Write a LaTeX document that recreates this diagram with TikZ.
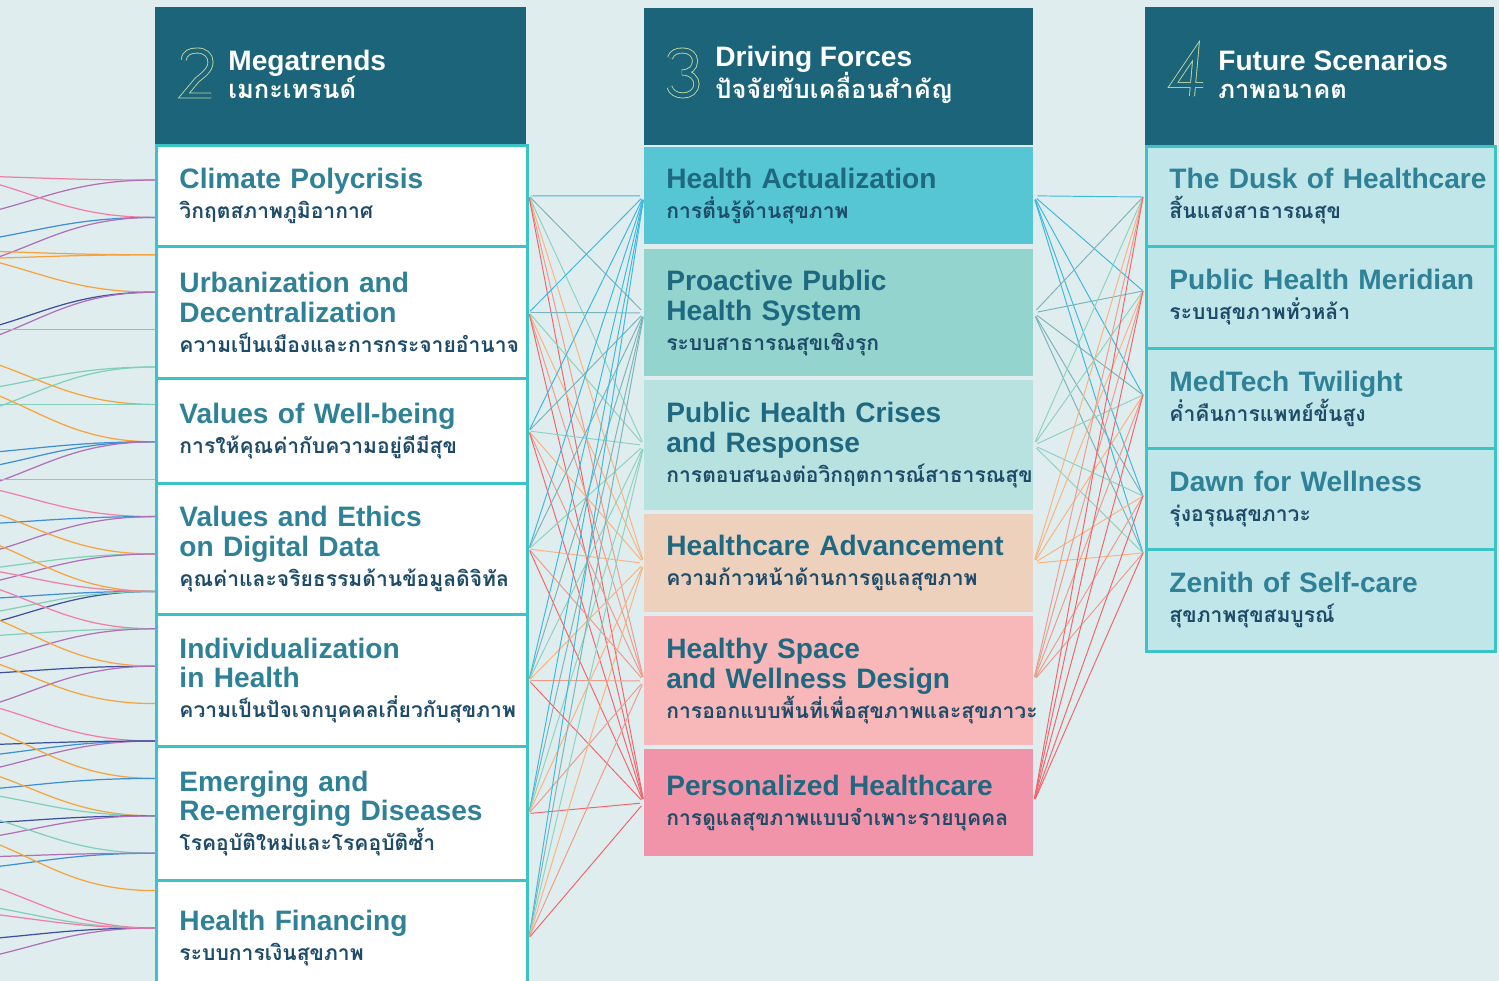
\documentclass[tikz,border=0pt]{standalone}
\usepackage{fontspec}
\setmainfont{Liberation Sans}
\newfontfamily\thaifont[Script=Thai]{Loma}
\usetikzlibrary{positioning}

\definecolor{bgcol}{HTML}{E0EDEE}
\definecolor{headcol}{HTML}{1B6479}
\definecolor{digitcol}{HTML}{C5D9A0}
\definecolor{bordercol}{HTML}{3CC3C6}
\definecolor{mttitle}{HTML}{2E8196}
\definecolor{dftitle}{HTML}{1E6981}
\definecolor{thaitxt}{HTML}{1D4B68}
\definecolor{fsfill}{HTML}{C1E6EA}
\definecolor{dfa}{HTML}{56C6D4}
\definecolor{dfb}{HTML}{94D4CE}
\definecolor{dfc}{HTML}{B8E2E0}
\definecolor{dfd}{HTML}{EED1BD}
\definecolor{dfe}{HTML}{F8B8B9}
\definecolor{dff}{HTML}{F294A9}
% link colours, one per driving force
\definecolor{lc1}{HTML}{3CB7E0}
\definecolor{lc2}{HTML}{7AB4BA}
\definecolor{lc3}{HTML}{8CD2BF}
\definecolor{lc4}{HTML}{FBB27C}
\definecolor{lc5}{HTML}{EE9A8B}
\definecolor{lc6}{HTML}{F2646B}
% feeds from the earlier stage
\definecolor{cpink}{HTML}{F37EA4}
\definecolor{cpurple}{HTML}{B06FB9}
\definecolor{cblue}{HTML}{3E8FD9}
\definecolor{corange}{HTML}{F7A23A}
\definecolor{cnavy}{HTML}{3E4FA0}
\definecolor{cgreen}{HTML}{82CFB9}

\newcommand\thline[1]{\\{\thaifont\fontsize{12}{17}\selectfont\color{thaitxt}#1}}
\newcommand\thhead[1]{\\[-1pt]{\thaifont\fontsize{14.5}{17}\selectfont #1}}

\tikzset{
  headbox/.style={fill=headcol, anchor=north west, inner sep=0pt, minimum height=2.74cm},
  headtext/.style={anchor=west, align=left, inner sep=0pt, text=white,
    font=\fontsize{16}{17}\selectfont\bfseries},
  numoutline/.style={draw=digitcol, line width=0.5pt, double=headcol, double distance=2.4pt},
  boxtext/.style={anchor=north west, align=left,
    execute at begin node={\hyphenpenalty=10000\exhyphenpenalty=10000},
    font=\fontsize{16}{17}\selectfont\bfseries},
  mtbox/.style={boxtext, draw=bordercol, line width=1.7pt, fill=white,
    text width=6.5cm, inner xsep=0.46cm, text=mttitle},
  dfbox/.style={boxtext, text width=6.9cm, inner xsep=0.44cm, text=dftitle},
  fsbox/.style={mtbox, fill=fsfill, text width=6.06cm},
  mdlink/.style={line width=0.55pt, shorten <=1pt, shorten >=2.3pt},
  dflink/.style={line width=0.55pt, shorten <=2.3pt},
  feed/.style={line width=0.7pt}
}

\begin{document}
\begin{tikzpicture}[x=0.02cm, y=-0.02cm]
  \useasboundingbox (0,0) rectangle (1499,981);
  \fill[bgcol] (0,0) rectangle (1499,981);

  % curves coming in from stage 1
  \foreach \k/\dy/\c in {0/-5/cpink, 0/45/cpurple, 1/-50/cpink, 1/30/cblue, 1/60/cpurple,
      2/5/corange, 2/-5/corange, 3/-45/corange, 3/50/cnavy, 3/65/cpurple, 4/0/corange,
      5/30/cgreen, 5/60/cgreen, 6/-60/corange, 6/0/cgreen, 7/-70/corange, 7/15/cblue,
      7/35/cblue, 7/60/cpurple, 8/0/cgreen, 9/-40/cpink, 9/10/cblue, 9/50/cpurple,
      10/20/cgreen, 10/-60/corange, 10/40/cpurple, 11/-70/corange, 11/10/cblue,
      11/45/cnavy, 11/30/cgreen, 11/-30/cpink, 12/-60/cpink, 12/10/cgreen, 12/45/cpurple,
      13/10/cnavy, 13/-70/corange, 13/55/cpurple, 14/-60/corange, 15/-50/cpink,
      15/20/cblue, 15/40/cpurple, 15/5/cnavy, 16/-70/corange, 16/15/cblue,
      17/-60/corange, 17/-30/cgreen, 17/10/cnavy, 17/30/cpurple, 18/-50/cgreen,
      18/20/cblue, 18/5/cpurple, 19/-70/corange, 20/-60/cpink, 20/-30/cgreen,
      20/15/cnavy, 20/40/cpurple, 20/-20/cpink}{
    \coordinate (src) at (-130,{180+37.4*\k+\dy});
    \coordinate (ent) at (155,{180+37.4*\k});
    \draw[feed, \c] (src) .. controls +(150,0) and +(-120,0) .. (ent);
  }

  % 2 Megatrends
  \node[headbox, minimum width=7.42cm] (h1) at (155,7) {};
  \node[headtext] (h1t) at (228,74) {Megatrends\thhead{เมกะเทรนด์}};
  \draw[numoutline] (184,60) .. controls (184,53) and (190,50.5) .. (197,50.5)
    .. controls (205,50.5) and (210.5,55) .. (210.5,62)
    .. controls (210.5,70) and (203,75) .. (197,80) -- (184,95.5) -- (211,95.5);

  \node[mtbox, minimum height=2.02cm] (m1) at (155,144) {Climate Polycrisis\thline{วิกฤตสภาพภูมิอากาศ}};
  \node[mtbox, minimum height=2.64cm] (m2) at (155,245) {Urbanization and\\Decentralization\thline{ความเป็นเมืองและการกระจายอำนาจ}};
  \node[mtbox, minimum height=2.10cm] (m3) at (155,377) {Values of Well-being\thline{การให้คุณค่ากับความอยู่ดีมีสุข}};
  \node[mtbox, minimum height=2.62cm] (m4) at (155,482) {Values and Ethics\\on Digital Data\thline{คุณค่าและจริยธรรมด้านข้อมูลดิจิทัล}};
  \node[mtbox, minimum height=2.64cm] (m5) at (155,613) {Individualization\\in Health\thline{ความเป็นปัจเจกบุคคลเกี่ยวกับสุขภาพ}};
  \node[mtbox, minimum height=2.68cm] (m6) at (155,745) {Emerging and\\Re-emerging Diseases\thline{โรคอุบัติใหม่และโรคอุบัติซ้ำ}};
  \node[mtbox, minimum height=2.30cm] (m7) at (155,879) {Health Financing\thline{ระบบการเงินสุขภาพ}};

  % 3 Driving Forces
  \node[headbox, minimum width=7.78cm] (h2) at (644,8) {};
  \node[headtext] (h2t) at (715,75) {Driving Forces\thhead{ปัจจัยขับเคลื่อนสำคัญ}};
  \draw[numoutline] (670,58) .. controls (672,52) and (677,50.5) .. (683,50.5)
    .. controls (690,50.5) and (695,55) .. (695,61) .. controls (695,68) and (690,72) .. (682,72.5)
    .. controls (691,72.5) and (696.5,78) .. (696.5,84) .. controls (696.5,91) and (690,95.5) .. (683,95.5)
    .. controls (676,95.5) and (671,92) .. (669.5,87);

  \node[dfbox, fill=dfa, minimum height=1.94cm] (d1) at (644,147) {Health Actualization\thline{การตื่นรู้ด้านสุขภาพ}};
  \node[dfbox, fill=dfb, minimum height=2.54cm] (d2) at (644,249) {Proactive Public\\Health System\thline{ระบบสาธารณสุขเชิงรุก}};
  \node[dfbox, fill=dfc, minimum height=2.60cm] (d3) at (644,380) {Public Health Crises\\and Response\thline{การตอบสนองต่อวิกฤตการณ์สาธารณสุข}};
  \node[dfbox, fill=dfd, minimum height=1.96cm] (d4) at (644,514) {Healthcare~Advancement\thline{ความก้าวหน้าด้านการดูแลสุขภาพ}};
  \node[dfbox, fill=dfe, minimum height=2.58cm] (d5) at (644,616) {Healthy Space\\and Wellness Design\thline{การออกแบบพื้นที่เพื่อสุขภาพและสุขภาวะ}};
  \node[dfbox, fill=dff, minimum height=2.14cm] (d6) at (644,749) {Personalized Healthcare\thline{การดูแลสุขภาพแบบจำเพาะรายบุคคล}};

  % 4 Future Scenarios
  \node[headbox, minimum width=6.98cm, minimum height=2.76cm] (h3) at (1145,7) {};
  \node[headtext] (h3t) at (1218,74) {Future Scenarios\thhead{ภาพอนาคต}};
  \draw[numoutline] (1192,96) -- (1196,51) -- (1173,85) -- (1203,85);

  \node[fsbox, minimum height=2.00cm] (f1) at (1145,145) {The~Dusk~of~Healthcare\thline{สิ้นแสงสาธารณสุข}};
  \node[fsbox, minimum height=2.04cm] (f2) at (1145,245) {Public~Health~Meridian\thline{ระบบสุขภาพทั่วหล้า}};
  \node[fsbox, minimum height=2.00cm] (f3) at (1145,347) {MedTech Twilight\thline{ค่ำคืนการแพทย์ขั้นสูง}};
  \node[fsbox, minimum height=2.02cm] (f4) at (1145,447) {Dawn for Wellness\thline{รุ่งอรุณสุขภาวะ}};
  \node[fsbox, minimum height=2.04cm] (f5) at (1145,548) {Zenith of Self-care\thline{สุขภาพสุขสมบูรณ์}};

  \coordinate (fi1) at (1143,197);
  \coordinate (fi2) at (1143,291);
  \coordinate (fi3) at (1143,395);
  \coordinate (fi4) at (1143,496);
  \coordinate (fi5) at (1143,553);

  % megatrends -> driving forces
  \foreach \i in {1,...,7}{
    \foreach \j in {1,...,6}{
      \draw[mdlink, lc\j] (m\i.east) -- (d\j.west);
    }
  }
  % driving forces -> scenarios
  \foreach \j in {1,...,6}{
    \foreach \k in {1,...,5}{
      \draw[dflink, lc\j] (d\j.east) -- (fi\k);
    }
  }
\end{tikzpicture}
\end{document}
